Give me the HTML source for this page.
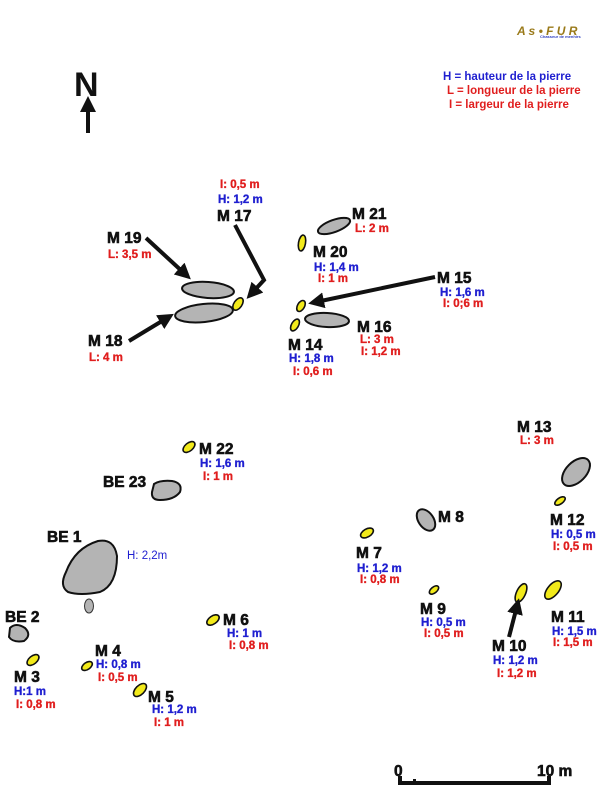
<!DOCTYPE html>
<html><head><meta charset="utf-8"><style>
html,body{margin:0;padding:0;background:#fff;}
svg{display:block;}
text{font-family:"Liberation Sans",Arial,sans-serif;font-weight:700;}
.b{font-size:15.5px;fill:#111;stroke:#111;stroke-width:0.6;}
.h{font-size:11.5px;fill:#1f1fd0;stroke:#1f1fd0;stroke-width:0.35;}
.r{font-size:11.5px;fill:#e01e1e;stroke:#e01e1e;stroke-width:0.35;}
.g{fill:#b4b4b4;stroke:#111;stroke-width:2;}
.y{fill:#f2ea1a;stroke:#111;stroke-width:1.6;}
.ar{stroke:#111;stroke-width:4;fill:none;}
</style></head><body>
<svg width="600" height="800" viewBox="0 0 600 800">
<defs><marker id="m" markerWidth="4" markerHeight="4" refX="2" refY="2" orient="auto"><path d="M0,0 L4,2 L0,4 Z" fill="#111"/></marker></defs>
<text x="517" y="35" font-size="12" fill="#9a7a1a" font-style="italic">A s • F U R</text>
<text x="540" y="38" font-size="4" fill="#3040c0">Chasseur de menhirs</text>
<text x="74" y="96" font-size="34" fill="#111">N</text>
<line x1="88" y1="133" x2="88" y2="104" class="ar" marker-end="url(#m)"/>
<text x="443" y="80" font-size="11.5" fill="#1f1fd0">H = hauteur de la pierre</text>
<text x="447" y="94" font-size="11.5" fill="#e01e1e">L = longueur de la pierre</text>
<text x="449" y="108" font-size="11.5" fill="#e01e1e">I = largeur de la pierre</text>
<text x="220" y="188" class="r">I: 0,5 m</text>
<text x="218" y="203" class="h">H: 1,2 m</text>
<text x="217" y="221" class="b">M 17</text>
<polyline points="235,225 264,280 252,293" class="ar" marker-end="url(#m)"/>
<text x="107" y="243" class="b">M 19</text>
<text x="108" y="258" class="r">L: 3,5 m</text>
<line x1="146" y1="238" x2="185" y2="274" class="ar" marker-end="url(#m)"/>
<text x="88" y="346" class="b">M 18</text>
<text x="89" y="361" class="r">L: 4 m</text>
<line x1="129" y1="341" x2="167" y2="318" class="ar" marker-end="url(#m)"/>
<ellipse cx="208" cy="290" rx="26" ry="8" class="g" transform="rotate(4 208 290)"/>
<ellipse cx="204" cy="313" rx="29" ry="9" class="g" transform="rotate(-6 204 313)"/>
<ellipse cx="238" cy="304" rx="4" ry="7" class="y" transform="rotate(35 238 304)"/>
<ellipse cx="334" cy="226" rx="17" ry="6" class="g" transform="rotate(-20 334 226)"/>
<text x="352" y="219" class="b">M 21</text>
<text x="355" y="232" class="r">L: 2 m</text>
<ellipse cx="302" cy="243" rx="3.5" ry="8" class="y" transform="rotate(10 302 243)"/>
<text x="313" y="257" class="b">M 20</text>
<text x="314" y="271" class="h">H: 1,4 m</text>
<text x="318" y="282" class="r">I: 1 m</text>
<line x1="435" y1="277" x2="316" y2="302" class="ar" stroke-width="3" marker-end="url(#m)"/>
<text x="437" y="283" class="b">M 15</text>
<text x="440" y="296" class="h">H: 1,6 m</text>
<text x="443" y="307" class="r">I: 0;6 m</text>
<ellipse cx="301" cy="306" rx="3.5" ry="6" class="y" transform="rotate(30 301 306)"/>
<ellipse cx="295" cy="325" rx="3.5" ry="6.5" class="y" transform="rotate(30 295 325)"/>
<ellipse cx="327" cy="320" rx="22" ry="7" class="g" transform="rotate(3 327 320)"/>
<text x="357" y="332" class="b">M 16</text>
<text x="360" y="343" class="r">L: 3 m</text>
<text x="361" y="355" class="r">I: 1,2 m</text>
<text x="288" y="350" class="b">M 14</text>
<text x="289" y="362" class="h">H: 1,8 m</text>
<text x="293" y="375" class="r">I: 0,6 m</text>
<ellipse cx="189" cy="447" rx="4" ry="7" class="y" transform="rotate(50 189 447)"/>
<text x="199" y="454" class="b">M 22</text>
<text x="200" y="467" class="h">H: 1,6 m</text>
<text x="203" y="480" class="r">I: 1 m</text>
<text x="103" y="487" class="b">BE 23</text>
<path d="M154,484 Q160,480 172,481 Q183,483 180,492 Q174,500 160,500 Q151,500 152,492 Z" class="g"/>
<text x="47" y="542" class="b">BE 1</text>
<path d="M66,572 Q75,548 98,541 Q114,538 117,556 Q117,585 100,592 Q80,596 68,592 Q59,586 66,572 Z" class="g"/>
<text x="127" y="559" font-size="11.5" fill="#1f1fd0" style="font-weight:400">H: 2,2m</text>
<ellipse cx="89" cy="606" rx="4.5" ry="7" fill="#b4b4b4" stroke="#333" stroke-width="1"/>
<text x="5" y="622" class="b">BE 2</text>
<path d="M10,628 Q16,622 25,628 Q32,635 24,641 Q13,643 9,637 Z" class="g"/>
<ellipse cx="33" cy="660" rx="4" ry="7" class="y" transform="rotate(50 33 660)"/>
<text x="14" y="682" class="b">M 3</text>
<text x="14" y="695" class="h">H:1 m</text>
<text x="16" y="708" class="r">I: 0,8 m</text>
<ellipse cx="87" cy="666" rx="3.5" ry="6" class="y" transform="rotate(55 87 666)"/>
<text x="95" y="656" class="b">M 4</text>
<text x="96" y="668" class="h">H: 0,8 m</text>
<text x="98" y="681" class="r">I: 0,5 m</text>
<ellipse cx="140" cy="690" rx="4.5" ry="8" class="y" transform="rotate(45 140 690)"/>
<text x="148" y="702" class="b">M 5</text>
<text x="152" y="713" class="h">H: 1,2 m</text>
<text x="154" y="726" class="r">I: 1 m</text>
<ellipse cx="213" cy="620" rx="4" ry="7" class="y" transform="rotate(55 213 620)"/>
<text x="223" y="625" class="b">M 6</text>
<text x="227" y="637" class="h">H: 1 m</text>
<text x="229" y="649" class="r">I: 0,8 m</text>
<text x="517" y="432" class="b">M 13</text>
<text x="520" y="444" class="r">L: 3 m</text>
<ellipse cx="576" cy="472" rx="10" ry="17" class="g" stroke-width="1.5" transform="rotate(45 576 472)"/>
<ellipse cx="560" cy="501" rx="3" ry="6" class="y" transform="rotate(55 560 501)"/>
<text x="550" y="525" class="b">M 12</text>
<text x="551" y="538" class="h">H: 0,5 m</text>
<text x="553" y="550" class="r">I: 0,5 m</text>
<ellipse cx="426" cy="520" rx="7.5" ry="12" class="g" stroke-width="1.5" transform="rotate(-35 426 520)"/>
<text x="438" y="522" class="b">M 8</text>
<ellipse cx="367" cy="533" rx="4" ry="7" class="y" transform="rotate(60 367 533)"/>
<text x="356" y="558" class="b">M 7</text>
<text x="357" y="572" class="h">H: 1,2 m</text>
<text x="360" y="583" class="r">I: 0,8 m</text>
<ellipse cx="434" cy="590" rx="3" ry="5.5" class="y" transform="rotate(50 434 590)"/>
<text x="420" y="614" class="b">M 9</text>
<text x="421" y="626" class="h">H: 0,5 m</text>
<text x="424" y="637" class="r">I: 0,5 m</text>
<ellipse cx="521" cy="593" rx="4.5" ry="10" class="y" transform="rotate(25 521 593)"/>
<line x1="509" y1="637" x2="517" y2="606" class="ar" marker-end="url(#m)"/>
<text x="492" y="651" class="b">M 10</text>
<text x="493" y="664" class="h">H: 1,2 m</text>
<text x="497" y="677" class="r">I: 1,2 m</text>
<ellipse cx="553" cy="590" rx="5.5" ry="11" class="y" transform="rotate(40 553 590)"/>
<text x="551" y="622" class="b">M 11</text>
<text x="552" y="635" class="h">H: 1,5 m</text>
<text x="553" y="646" class="r">I: 1,5 m</text>
<text x="394" y="776" class="b">0</text>
<text x="537" y="776" class="b">10 m</text>
<rect x="398" y="781" width="153" height="4" fill="#111"/>
<rect x="398" y="776" width="4" height="9" fill="#111"/>
<rect x="413" y="779" width="3" height="6" fill="#111"/>
<rect x="547" y="776" width="4" height="9" fill="#111"/>
</svg>
</body></html>
